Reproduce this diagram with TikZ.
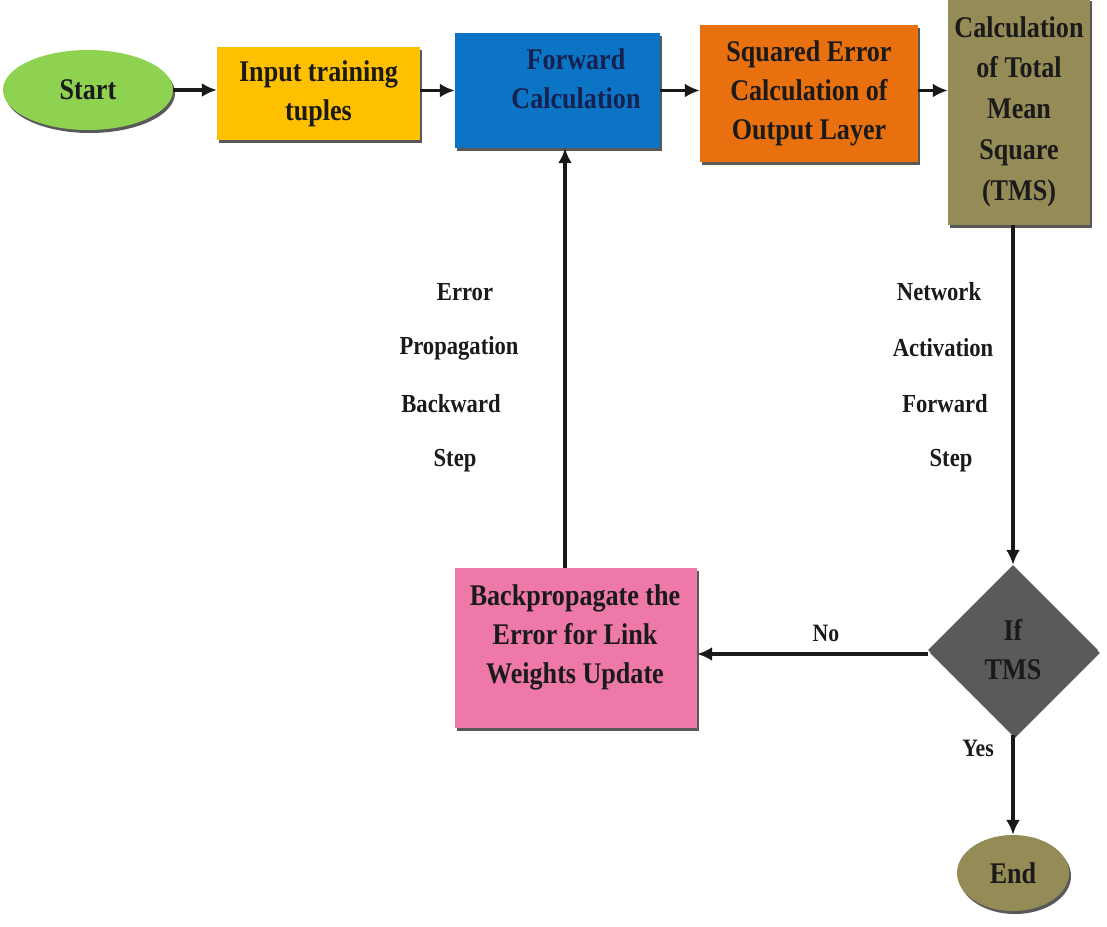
\documentclass[tikz,border=0pt]{standalone}
\usepackage{fontspec}
\setmainfont{Liberation Serif}[FakeStretch=0.87]
\usetikzlibrary{shapes.geometric,arrows.meta,shadows,calc}
\definecolor{cgreen}{HTML}{8FD151}
\definecolor{cgold}{HTML}{FFC000}
\definecolor{cblue}{HTML}{0B74C4}
\definecolor{corange}{HTML}{E8700F}
\definecolor{colive}{HTML}{958B56}
\definecolor{cgray}{HTML}{5A5A5A}
\definecolor{cpink}{HTML}{EE79A9}
\definecolor{ctext}{HTML}{1A1A1A}
\definecolor{cnavy}{HTML}{16214F}
\begin{document}
\begin{tikzpicture}[x=1pt,y=-1pt,
  shad/.style={drop shadow={shadow xshift=2pt,shadow yshift=-3pt,opacity=1,fill=black!65}},
  box/.style={rectangle,inner sep=0pt,shad},
  term/.style={ellipse,inner sep=0pt,shad},
  txt/.style={font=\fontsize{30}{39}\selectfont\bfseries,text=ctext,align=center},
  side/.style={font=\fontsize{26}{30}\selectfont\bfseries,text=ctext,inner sep=0pt},
  arr/.style={line width=3.6pt,draw=black!90,-{Latex[length=15pt,width=14pt]}}]
\useasboundingbox (0,0) rectangle (1107,926);

\node[term,fill=cgreen,minimum width=170pt,minimum height=80pt,txt] (start) at (88,90) {Start};
\node[box,fill=cgold,minimum width=203pt,minimum height=93pt,txt] (inp) at (318.5,93.5) {Input training\\tuples};
\node[box,fill=cblue,minimum width=205pt,minimum height=115pt] (fwd) at (557.5,90.5) {};
\node[txt,text=cnavy] (fwdt) at (576,79) {Forward\\Calculation};
\node[box,fill=corange,minimum width=218pt,minimum height=137pt,txt] (sq) at (809,93.5) {Squared Error\\Calculation of\\Output Layer};
\node[box,fill=colive,minimum width=142pt,minimum height=227pt,txt,font=\fontsize{30}{40.8}\selectfont\bfseries] (tms) at (1019,111.5) {Calculation\\of Total\\Mean\\Square\\(TMS)};
\node[diamond,aspect=1,inner sep=0pt,minimum width=170pt,minimum height=170pt,fill=cgray,shad,txt,text=black!90] (dia) at (1013,650) {If\\TMS};
\node[box,fill=cpink,minimum width=242pt,minimum height=160pt] (bp) at (576,648) {};
\node[txt] (bpt) at (575,637) {Backpropagate the\\Error for Link\\Weights Update};
\node[term,fill=colive,minimum width=112pt,minimum height=76pt,txt] (end) at (1013,873) {End};

% side labels
\node[side] (l1) at (465,292) {Error};
\node[side] (l2) at (459,348) {Propagation};
\node[side] (l3) at (451,404) {Backward};
\node[side] (l4) at (455,461) {Step};
\node[side] (r1) at (939,292) {Network};
\node[side] (r2) at (943,348) {Activation};
\node[side] (r3) at (945,404) {Forward};
\node[side] (r4) at (951,461) {Step};
\node[side,font=\fontsize{25}{30}\selectfont\bfseries] (no) at (826,633) {No};
\node[side,font=\fontsize{25}{30}\selectfont\bfseries] (yes) at (978,748) {Yes};

% connectors
\draw[arr] (start.east |- start.center) -- (start.center -| inp.west);
\draw[arr] (fwd.center -| inp.east) -- (fwd.west);
\draw[arr] (fwd.east) -- (fwd.center -| sq.west);
\draw[arr] (fwd.center -| sq.east) -- (fwd.center -| tms.west);
\draw[arr] (tms.south -| dia.north) -- (dia.north);
\draw[arr] ([yshift=-4pt]dia.west) -- ([yshift=-4pt]dia.west -| bp.east);
\draw[arr] (dia.south) -- (end.north);
\draw[arr] ([xshift=-11pt]bp.north) -- ([xshift=-11pt]bp.north |- fwd.south);
\end{tikzpicture}
\end{document}
